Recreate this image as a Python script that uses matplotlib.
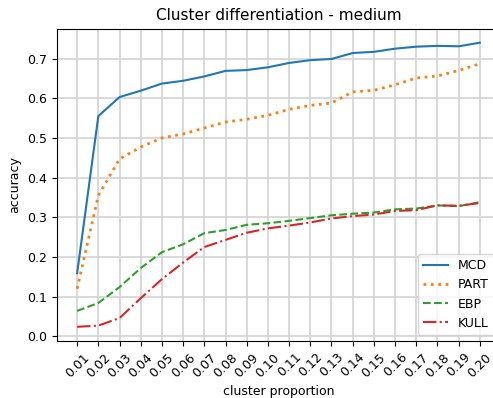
import matplotlib
matplotlib.use("Agg")
import matplotlib.pyplot as plt

proportions = [0.01, 0.02, 0.03, 0.04, 0.05, 0.06, 0.07, 0.08, 0.09, 0.10,
               0.11, 0.12, 0.13, 0.14, 0.15, 0.16, 0.17, 0.18, 0.19, 0.20]
tick_labels = ["%.2f" % p for p in proportions]
mcd = [0.159, 0.555, 0.603, 0.619, 0.637, 0.644, 0.655, 0.669, 0.671, 0.678,
       0.689, 0.696, 0.699, 0.714, 0.717, 0.725, 0.730, 0.732, 0.731, 0.740]
part = [0.12, 0.355, 0.447, 0.477, 0.500, 0.510, 0.525, 0.540, 0.547, 0.557,
        0.572, 0.582, 0.588, 0.616, 0.620, 0.634, 0.651, 0.656, 0.670, 0.687]
ebp = [0.064, 0.084, 0.124, 0.172, 0.212, 0.232, 0.260, 0.268, 0.281, 0.285,
       0.291, 0.298, 0.305, 0.309, 0.312, 0.320, 0.322, 0.330, 0.328, 0.338]
kull = [0.024, 0.027, 0.046, 0.096, 0.144, 0.186, 0.225, 0.243, 0.261, 0.272,
        0.279, 0.287, 0.297, 0.303, 0.307, 0.316, 0.318, 0.330, 0.329, 0.336]

fig = plt.figure(figsize=(4.93, 3.98), dpi=100)
ax = fig.add_axes([57/493, 57/398, 443/493, 312.5/398])

ax.plot(proportions, mcd, color="#1f77b4", linestyle="-", linewidth=1.5, label="MCD")
ax.plot(proportions, part, color="#ff7f0e", linestyle=":", linewidth=2, label="PART")
ax.plot(proportions, ebp, color="#2ca02c", linestyle="--", linewidth=1.5, label="EBP")
ax.plot(proportions, kull, color="#d62728", linestyle="-.", linewidth=1.5, label="KULL")

ax.set_xticks(proportions)
ax.set_xticklabels(tick_labels, rotation=45, fontsize=9)
ax.tick_params(axis="y", labelsize=9)
ax.grid(True, color="#d3d3d3", linewidth=1.2)
ax.set_axisbelow(True)
ax.set_title("Cluster differentiation - medium", fontsize=11)
ax.set_xlabel("cluster proportion", fontsize=9)
ax.set_ylabel("accuracy", fontsize=9)
ax.legend(loc="lower right", fontsize=9)

fig.savefig("out.png", dpi=100)
